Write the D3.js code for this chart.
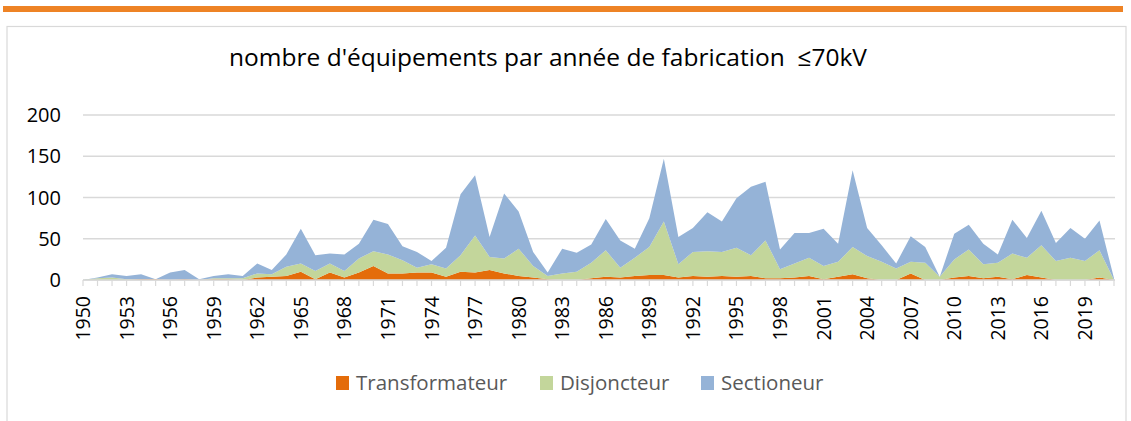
<!DOCTYPE html>
<html>
<head>
<meta charset="utf-8">
<script src="https://cdn.jsdelivr.net/npm/d3@7"></script>
<style>
body { margin: 0; background: #fff; }
text { font-family: "Open Sans", sans-serif; }
</style>
</head>
<body>
<div id="chart"></div>
<script>
// years 1950 - 2021
var years = [1950, 1951, 1952, 1953, 1954, 1955, 1956, 1957, 1958, 1959,
    1960, 1961, 1962, 1963, 1964, 1965, 1966, 1967, 1968, 1969,
    1970, 1971, 1972, 1973, 1974, 1975, 1976, 1977, 1978, 1979,
    1980, 1981, 1982, 1983, 1984, 1985, 1986, 1987, 1988, 1989,
    1990, 1991, 1992, 1993, 1994, 1995, 1996, 1997, 1998, 1999,
    2000, 2001, 2002, 2003, 2004, 2005, 2006, 2007, 2008, 2009,
    2010, 2011, 2012, 2013, 2014, 2015, 2016, 2017, 2018, 2019,
    2020, 2021];

var transformateur = [0, 0, 0, 0, 1, 1, 0, 1, 0, 1,
    1, 0, 3, 4, 5, 10, 1, 9, 3, 9,
    17, 8, 8, 9, 9, 4, 10, 9, 12, 8,
    5, 3, 1, 0, 0, 2, 4, 3, 5, 6,
    6, 3, 5, 4, 5, 4, 5, 2, 2, 3,
    5, 1, 4, 7, 2, 0, 0, 8, 0, 0,
    3, 5, 2, 4, 1, 6, 3, 0, 0, 0,
    3, 0];

var disjoncteur = [0, 2, 3, 1, 0, 0, 0, 0, 0, 1,
    1, 2, 5, 3, 11, 10, 10, 11, 8, 17,
    18, 23, 16, 6, 10, 10, 20, 45, 16, 18,
    33, 14, 4, 8, 10, 19, 32, 12, 22, 34,
    65, 16, 29, 31, 29, 35, 25, 46, 11, 17,
    22, 16, 18, 33, 27, 22, 14, 14, 21, 4,
    22, 32, 17, 17, 31, 21, 39, 23, 27, 23,
    33, 0];

var sectioneur = [0, 1, 4, 4, 6, 0, 9, 11, 1, 3,
    5, 3, 12, 5, 15, 42, 19, 12, 20, 18,
    38, 37, 17, 19, 4, 25, 74, 73, 24, 79,
    45, 17, 4, 30, 23, 22, 38, 33, 11, 35,
    76, 33, 29, 47, 37, 60, 83, 71, 24, 37,
    30, 45, 22, 93, 34, 20, 6, 31, 19, 0,
    31, 30, 25, 10, 41, 24, 42, 22, 36, 27,
    36, 2];

var seriesNames = ["Transformateur", "Disjoncteur", "Sectioneur"];
var seriesColors = ["#e46c0a", "#c3d69b", "#95b3d7"];
var yTicks = [0, 50, 100, 150, 200];
var titleText = "nombre d'\u00e9quipements par ann\u00e9e de fabrication  \u226470kV";

var W = 1131, H = 421;

var svg = d3.select("#chart").append("svg")
    .attr("width", W)
    .attr("height", H);

// orange band on top of the page
svg.append("rect")
    .attr("x", 3).attr("y", 6)
    .attr("width", 1120).attr("height", 6)
    .attr("fill", "#ee8325");

// chart frame
svg.append("rect")
    .attr("x", 7).attr("y", 26.5)
    .attr("width", 1119).attr("height", 410)
    .attr("fill", "none")
    .attr("stroke", "#d9d9d9")
    .attr("stroke-width", 1.2);

svg.append("text")
    .attr("x", 548).attr("y", 66)
    .attr("text-anchor", "middle")
    .attr("font-size", 24.5)
    .attr("fill", "#000")
    .style("white-space", "pre")
    .text(titleText);

var x = d3.scaleLinear().domain([years[0], years[years.length - 1]]).range([83, 1114]);
var y = d3.scaleLinear().domain([0, 200]).range([280, 115]);

// gridlines
svg.selectAll(".grid")
    .data(yTicks)
    .enter().append("line")
    .attr("class", "grid")
    .attr("x1", 83).attr("x2", 1115)
    .attr("y1", function(d) { return y(d); })
    .attr("y2", function(d) { return y(d); })
    .attr("stroke", "#d9d9d9")
    .attr("stroke-width", 1.5);

svg.selectAll(".ylab")
    .data(yTicks)
    .enter().append("text")
    .attr("class", "ylab")
    .attr("x", 61)
    .attr("y", function(d) { return y(d); })
    .attr("dy", "0.36em")
    .attr("text-anchor", "end")
    .attr("font-size", 20)
    .attr("fill", "#000")
    .text(function(d) { return d; });

// stacked areas
var table = years.map(function(yr, i) {
    return {year: yr, Transformateur: transformateur[i], Disjoncteur: disjoncteur[i], Sectioneur: sectioneur[i]};
});
var stacked = d3.stack().keys(seriesNames)(table);

var area = d3.area()
    .x(function(d) { return x(d.data.year); })
    .y0(function(d) { return y(d[0]); })
    .y1(function(d) { return y(d[1]); });

svg.selectAll(".layer")
    .data(stacked)
    .enter().append("path")
    .attr("class", "layer")
    .attr("d", area)
    .attr("fill", function(d, i) { return seriesColors[i]; });

// x axis line and ticks
svg.append("line")
    .attr("x1", 83).attr("x2", 1115)
    .attr("y1", 280).attr("y2", 280)
    .attr("stroke", "#d9d9d9")
    .attr("stroke-width", 1.5);

svg.selectAll(".xtick")
    .data(years)
    .enter().append("line")
    .attr("class", "xtick")
    .attr("x1", function(d) { return x(d); })
    .attr("x2", function(d) { return x(d); })
    .attr("y1", 280).attr("y2", 286)
    .attr("stroke", "#d9d9d9")
    .attr("stroke-width", 1.2);

svg.selectAll(".xlab")
    .data(years.filter(function(d, i) { return i % 3 == 0; }))
    .enter().append("text")
    .attr("class", "xlab")
    .attr("transform", function(d) { return "translate(" + x(d) + ",296) rotate(-90)"; })
    .attr("dy", "0.36em")
    .attr("text-anchor", "end")
    .attr("font-size", 19.5)
    .attr("fill", "#000")
    .text(function(d) { return d; });

// legend
var legendX = [336, 540, 701];
var legend = svg.selectAll(".leg")
    .data(seriesNames)
    .enter().append("g")
    .attr("class", "leg")
    .attr("transform", function(d, i) { return "translate(" + legendX[i] + ",383)"; });

legend.append("rect")
    .attr("x", 0).attr("y", -7)
    .attr("width", 13).attr("height", 14)
    .attr("fill", function(d, i) { return seriesColors[i]; });

legend.append("text")
    .attr("x", 20).attr("y", 0)
    .attr("dy", "0.36em")
    .attr("font-size", 20.5)
    .attr("fill", "#595959")
    .text(function(d) { return d; });
</script>
</body>
</html>
